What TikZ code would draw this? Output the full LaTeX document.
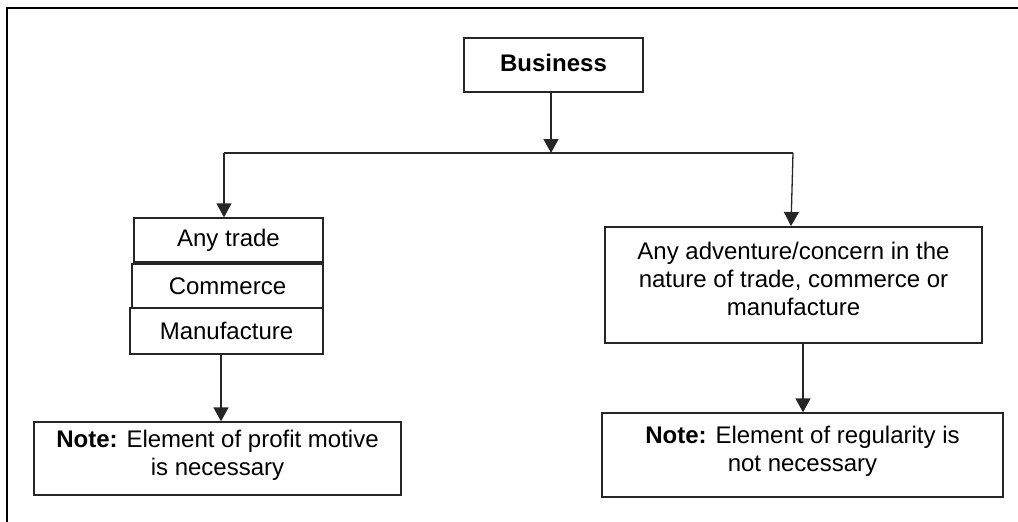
\documentclass[tikz,border=0pt]{standalone}
\usepackage{fontspec}
\setmainfont{Liberation Sans}
\usetikzlibrary{arrows.meta}
\begin{document}
\begin{tikzpicture}[x=1pt,y=-1pt,
  box/.style={draw=black!85, line width=1.3pt, inner sep=0pt, minimum width=#1},
  txt/.style={align=center, inner sep=0pt, font=\fontsize{24}{28}\selectfont},
  link/.style={draw=black!85, line width=1.3pt},
  arr/.style={link, -{Triangle[width=15pt,length=14pt]}}]
\useasboundingbox (0,0) rectangle (1018,522);
% frame
\draw[line width=2pt] (7,522) -- (7,8) -- (1018,8);
% boxes
\node[box=179pt, minimum height=54pt] (bus) at (553.5,65) {};
\node[txt] (bustxt) at (553.5,63) {\textbf{Business}};
\node[box=189pt, minimum height=44pt] (trade) at (228.5,240) {};
\node[txt] (tradetxt) at (228.5,240) {Any trade};
\node[box=191pt, minimum height=44pt] (comm) at (227.5,286) {};
\node[txt] (commtxt) at (227.5,286) {Commerce};
\node[box=193pt, minimum height=46pt] (manu) at (226.5,331) {};
\node[txt] (manutxt) at (226.5,331) {Manufacture};
\node[box=367pt, minimum height=73pt] (noteL) at (217.5,458.5) {};
\node[txt] (noteLtxt) at (217.5,455) {\textbf{Note:} Element of profit motive\\is necessary};
\node[box=377pt, minimum height=116pt] (adv) at (793.5,285) {};
\node[txt] (advtxt) at (793.5,279) {Any adventure/concern in the\\nature of trade, commerce or\\manufacture};
\node[box=401pt, minimum height=84pt] (noteR) at (802.5,455) {};
\node[txt] (noteRtxt) at (802.5,451.5) {\textbf{Note:} Element of regularity is\\not necessary};
% connectors
\coordinate (J) at (551,153);
\coordinate (L) at (224,153);
\coordinate (R) at (793,153);
\coordinate (Rt) at (791,226);
\draw[arr] (bus.south -| J) -- (J);
\draw[link] (L) -- (R);
\draw[arr] (L) -- (L |- trade.north);
\draw[arr] (R) -- (Rt);
\coordinate (M) at (221,354);
\draw[arr] (M) -- (M |- noteL.north);
\coordinate (A) at (803,343);
\draw[arr] (A) -- (A |- noteR.north);
\end{tikzpicture}
\end{document}
